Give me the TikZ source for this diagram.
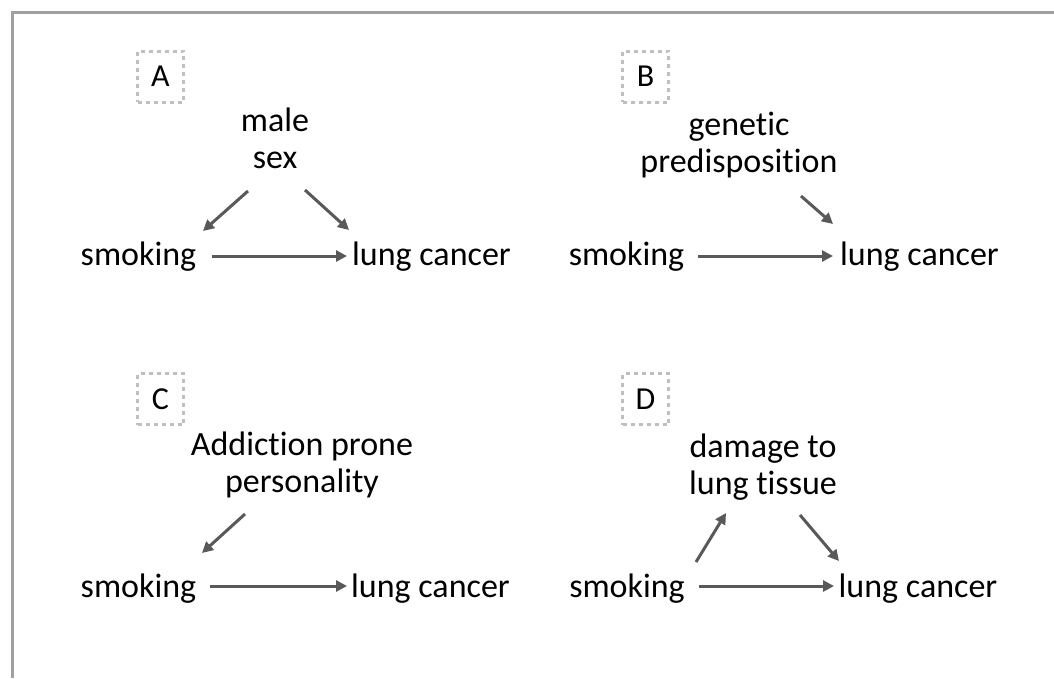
\documentclass[tikz,border=0pt]{standalone}
\usepackage{fontspec}
\setmainfont[Ligatures={NoCommon,NoContextual}]{Carlito}
\usetikzlibrary{arrows.meta,calc}
\definecolor{bordergray}{HTML}{A0A0A0}
\definecolor{dotgray}{HTML}{BFBFBF}
\definecolor{arrgray}{HTML}{595959}
\begin{document}
\begin{tikzpicture}[x=1pt,y=-1pt,
  lbl/.style={font=\fontsize{34}{36.5}\selectfont, inner sep=0pt, anchor=base, align=center},
  tag/.style={draw=dotgray, line width=3pt, dash pattern=on 4pt off 4pt, minimum width=46pt, minimum height=51pt, inner sep=0pt, font=\fontsize{32}{36}\selectfont},
  arr/.style={draw=arrgray, line width=3pt, -{Triangle[length=11pt,width=11pt]}}]
\useasboundingbox (0,0) rectangle (1054,678);
\draw[bordergray, line width=3pt] (12,678) -- (12,12) -- (1054,12);

% panel tags
\node[tag] (tA) at (160.5,76.5) {A};
\node[tag] (tB) at (645.5,76.5) {B};
\node[tag] (tC) at (160.5,399) {C};
\node[tag] (tD) at (645.5,399) {D};

% panel A
\node[lbl] (topA) at (275,168) {male\\sex};
\node[lbl] (smA) at (138.5,265) {smoking};
\node[lbl] (lcA) at (431.5,265) {lung cancer};
\draw[arr] ($(topA.base)+(-27,23)$) -- ($(smA.base)+(64.5,-34)$);
\draw[arr] ($(topA.base)+(30,22)$) -- ($(lcA.base)+(-82.5,-35)$);
\draw[arr] ($(smA.base)+(73.5,-9)$) -- ($(lcA.base)+(-84.5,-9)$);

% panel B
\node[lbl] (topB) at (739,172) {genetic\\predisposition};
\node[lbl] (smB) at (626.5,265) {smoking};
\node[lbl] (lcB) at (919.5,265) {lung cancer};
\draw[arr] ($(topB.base)+(62,24)$) -- ($(lcB.base)+(-86.5,-41)$);
\draw[arr] ($(smB.base)+(71.5,-9)$) -- ($(lcB.base)+(-86.5,-9)$);

% panel C
\node[lbl] (topC) at (302,492) {Addiction prone\\personality};
\node[lbl] (smC) at (138.5,597) {smoking};
\node[lbl] (lcC) at (430.5,597) {lung cancer};
\draw[arr] ($(topC.base)+(-57,22)$) -- ($(smC.base)+(63.5,-44)$);
\draw[arr] ($(smC.base)+(71.5,-11)$) -- ($(lcC.base)+(-83.5,-11)$);

% panel D
\node[lbl] (topD) at (763,494) {damage to\\lung tissue};
\node[lbl] (smD) at (627,597) {smoking};
\node[lbl] (lcD) at (918,597) {lung cancer};
\draw[arr] ($(smD.base)+(69,-35)$) -- ($(topD.base)+(-37,19)$);
\draw[arr] ($(topD.base)+(37,21)$) -- ($(lcD.base)+(-79,-36)$);
\draw[arr] ($(smD.base)+(72,-11)$) -- ($(lcD.base)+(-84,-11)$);
\end{tikzpicture}
\end{document}
